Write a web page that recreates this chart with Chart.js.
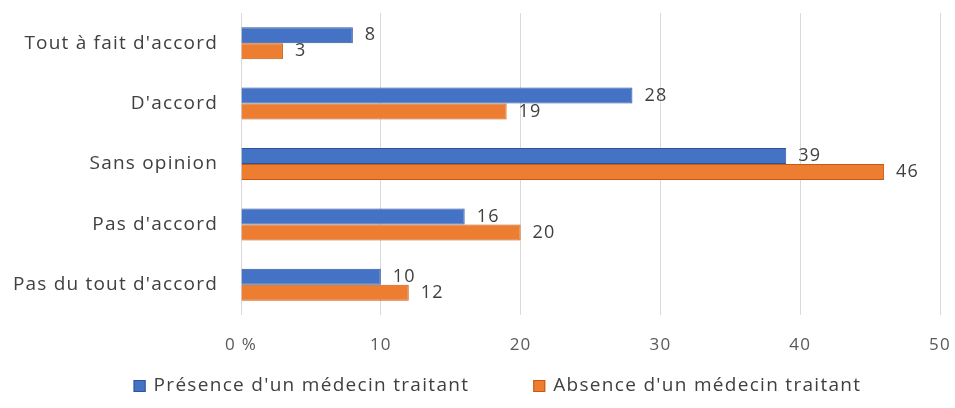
<!DOCTYPE html>
<html lang="fr">
<head>
<meta charset="utf-8">
<script src="https://cdn.jsdelivr.net/npm/chart.js@4.4.1/dist/chart.umd.min.js"></script>
<style>
    html, body { margin: 0; padding: 0; background: #ffffff; }
    #wrap { width: 955px; height: 408px; }
</style>
</head>
<body>
<div id="wrap"><canvas id="avisChart"></canvas></div>
<script>
const categories = ["Tout à fait d'accord", "D'accord", "Sans opinion", "Pas d'accord", "Pas du tout d'accord"];
const presenceValues = [8, 28, 39, 16, 10];
const absenceValues = [3, 19, 46, 20, 12];
const seriesNames = ["Présence d'un médecin traitant", "Absence d'un médecin traitant"];
const xTicks = [0, 10, 20, 30, 40, 50];

const FONT = "'Open Sans', 'DejaVu Sans', sans-serif";
const SPACING = "1.2px";

// espacement des lettres (le canvas est réinitialisé à chaque redimensionnement)
const letterSpacing = {
    id: "letterSpacing",
    beforeLayout: (chart) => { chart.ctx.letterSpacing = SPACING; },
    beforeDraw: (chart) => { chart.ctx.letterSpacing = SPACING; },
};

const barValues = {
    id: "barValues",
    afterDatasetsDraw: (chart) => {
        const {ctx} = chart;
        ctx.save();
        ctx.letterSpacing = SPACING;
        ctx.font = "18px " + FONT;
        ctx.fillStyle = "#404040";
        ctx.textAlign = "left";
        ctx.textBaseline = "middle";
        chart.data.datasets.forEach((ds, i) => {
            chart.getDatasetMeta(i).data.forEach((bar, j) => {
                ctx.fillText(ds.data[j], bar.x + 12, bar.y);
            });
        });
        ctx.restore();
    },
};

const bottomLegend = {
    id: "bottomLegend",
    afterDraw: (chart) => {
        const {ctx} = chart;
        const box = 12, gap = 8, between = 64;
        ctx.save();
        ctx.letterSpacing = "1.3px";
        ctx.font = "19px " + FONT;
        ctx.textBaseline = "middle";
        const items = chart.data.datasets.map(ds => ({
            label: ds.label,
            color: ds.backgroundColor,
            border: ds.borderColor,
            w: box + gap + ctx.measureText(ds.label).width,
        }));
        const total = items.reduce((s, it) => s + it.w, 0) + between * (items.length - 1);
        let x = chart.width / 2 + 20 - total / 2;
        const y = 386;
        items.forEach(it => {
            ctx.fillStyle = it.color;
            ctx.fillRect(x, y - box / 2, box, box);
            ctx.strokeStyle = it.border;
            ctx.lineWidth = 1;
            ctx.strokeRect(x + 0.5, y - box / 2 + 0.5, box - 1, box - 1);
            ctx.fillStyle = "#404040";
            ctx.fillText(it.label, x + box + gap, y);
            x += it.w + between;
        });
        ctx.restore();
    },
};

const avisChart = () => {
    const ctx = document.getElementById("avisChart").getContext("2d");

    return new Chart(ctx, {
        type: "bar",
        data: {
            labels: categories,
            datasets: [{
                label: seriesNames[0],
                data: presenceValues,
                backgroundColor: "#4472C4",
                borderColor: "#2F5597",
                borderWidth: 1,
            }, {
                label: seriesNames[1],
                data: absenceValues,
                backgroundColor: "#ED7D31",
                borderColor: "#C55A11",
                borderWidth: 1,
            }]
        },
        plugins: [letterSpacing, barValues, bottomLegend],
        options: {
            indexAxis: "y",
            responsive: true,
            maintainAspectRatio: false,
            animation: false,
            categoryPercentage: 0.53,
            barPercentage: 1.0,
            layout: {
                padding: {top: 13, right: 0, left: 0, bottom: 53},
            },
            plugins: {
                legend: {display: false},
                tooltip: {enabled: false},
            },
            scales: {
                x: {
                    min: 0,
                    max: 50,
                    afterBuildTicks: (scale) => {
                        scale.ticks = xTicks.map(v => ({value: v}));
                    },
                    afterFit: (scale) => {
                        scale.height = 40;
                        scale.paddingLeft = 0;
                        scale.paddingRight = 15;
                    },
                    ticks: {
                        padding: 20,
                        color: "#595959",
                        font: {family: FONT, size: 17},
                        callback: (v) => v === 0 ? "0 %" : v,
                    },
                    grid: {
                        color: "#d9d9d9",
                        drawTicks: false,
                    },
                    border: {display: false},
                },
                y: {
                    afterFit: (scale) => {
                        scale.width = 241;
                        scale.paddingTop = 0;
                        scale.paddingBottom = 0;
                    },
                    ticks: {
                        padding: 23,
                        color: "#404040",
                        font: {family: FONT, size: 19},
                    },
                    grid: {display: false, drawTicks: false},
                    border: {display: false},
                },
            },
        },
    });
}

avisChart();
</script>
</body>
</html>
